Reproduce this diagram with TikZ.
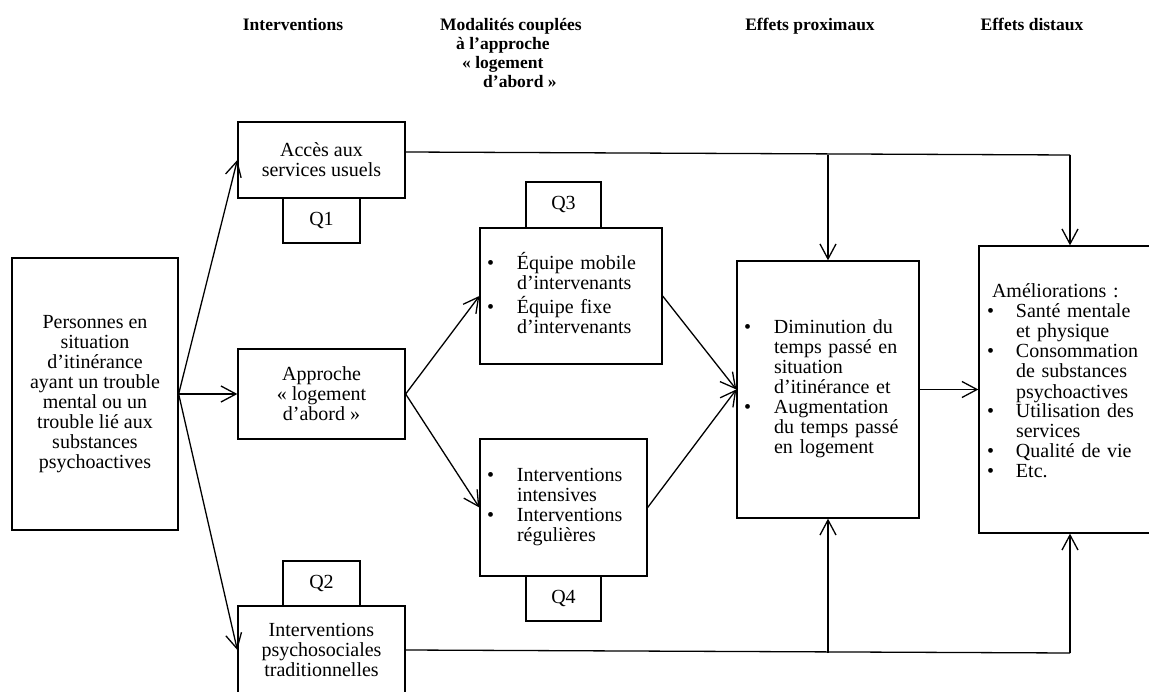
\documentclass[tikz,border=0pt]{standalone}
\usepackage{fontspec}
\setmainfont{Liberation Serif}
\usetikzlibrary{arrows.meta}
\begin{document}
\begin{tikzpicture}[x=1pt,y=-1pt,
  box/.style={draw, line width=1.3pt, inner sep=0pt, align=center, font=\fontsize{20}{20}\selectfont},
  listbox/.style={box, align=left, inner xsep=7pt},
  head/.style={font=\fontsize{17.5}{18.5}\selectfont\bfseries, inner sep=0pt, anchor=base},
  arr/.style={line width=1.3pt, -{Straight Barb[length=15pt,width=16pt]}},
  ln/.style={line width=1.3pt}]
\useasboundingbox (0,0) rectangle (1149,692);
\clip (0,0) rectangle (1149,692);
\fill[white] (0,0) rectangle (1149,692);

% headers
\node[head] (h1) at (293,31) {Interventions};
\node[head, anchor=base west] (h2a) at (440,31) {Modalités couplées};
\node[head, anchor=base west] (h2b) at (456,50) {à l’approche};
\node[head, anchor=base west] (h2c) at (462,69) {« logement};
\node[head, anchor=base west] (h2d) at (483,88) {d’abord »};
\node[head] (h3) at (810,31) {Effets proximaux};
\node[head] (h4) at (1032,31) {Effets distaux};

% boxes
\node[box, minimum width=166pt, minimum height=272pt] (P) at (95,394)
  {Personnes en\\situation\\d’itinérance\\ayant un trouble\\mental ou un\\trouble lié aux\\substances\\psychoactives};
\node[box, minimum width=167pt, minimum height=76pt] (A) at (321.5,160) {Accès aux\\services usuels};
\node[box, minimum width=77pt, minimum height=45pt] (Q1) at (321.5,220.5) {Q1};
\node[box, minimum width=167pt, minimum height=90pt] (B) at (321.5,394) {Approche\\« logement\\d’abord »};
\node[box, minimum width=167pt, minimum height=88pt] (C) at (321.5,650) {Interventions\\psychosociales\\traditionnelles};
\node[box, minimum width=77pt, minimum height=45pt] (Q2) at (321.5,583.5) {Q2};

\node[listbox, text width=168pt, minimum height=136pt] (E) at (571,296)
  {\begin{tabular}{@{}p{30pt}@{}l@{}}•&Équipe mobile\\&d’intervenants\\•&Équipe fixe\\&d’intervenants\end{tabular}};
\node[box, minimum width=75pt, minimum height=46pt] (Q3) at (563.5,205) {Q3};
\node[listbox, text width=153pt, minimum height=137pt] (F) at (563.5,507.5)
  {\begin{tabular}{@{}p{30pt}@{}l@{}}•&Interventions\\&intensives\\•&Interventions\\&régulières\end{tabular}};
\node[box, minimum width=75pt, minimum height=45pt] (Q4) at (563.5,598.5) {Q4};

\node[listbox, text width=168pt, minimum height=257pt] (D) at (828,389.5)
  {\begin{tabular}{@{}p{30pt}@{}l@{}}•&Diminution du\\&temps passé en\\&situation\\&d’itinérance et\\•&Augmentation\\&du temps passé\\&en logement\end{tabular}};

\node[listbox, inner xsep=8pt, text width=166pt, minimum height=287pt] (R) at (1070,389.5)
  {\begin{tabular}{@{}p{29pt}@{}l@{}}\multicolumn{2}{@{}l@{}}{\hspace*{5pt}Améliorations :}\\•&Santé mentale\\&et physique\\•&Consommation\\&de substances\\&psychoactives\\•&Utilisation des\\&services\\•&Qualité de vie\\•&Etc.\\[11pt]\end{tabular}};

% connectors
\draw[arr] (P.east) -- (A.west);
\draw[arr] (P.east) -- (B.west);
\draw[arr] (P.east) -- (C.west);
\draw[arr] (B.east) -- (E.west);
\draw[arr] (B.east) -- (F.west);
\draw[arr] (E.east) -- (D.west);
\draw[arr] (F.east) -- (D.west);
\draw[arr] (D.east) -- (R.west);
\coordinate (tr) at (1070,155);
\coordinate (br) at (1070,653);
\draw[ln] ([yshift=8pt]A.east) -- (tr);
\draw[arr] (tr) -- (R.north);
\draw[arr] (D.north |- tr) -- (D.north);
\draw[ln] (C.east) -- (br);
\draw[arr] (br) -- (R.south);
\draw[arr] (D.south |- br) -- (D.south);
\end{tikzpicture}
\end{document}
